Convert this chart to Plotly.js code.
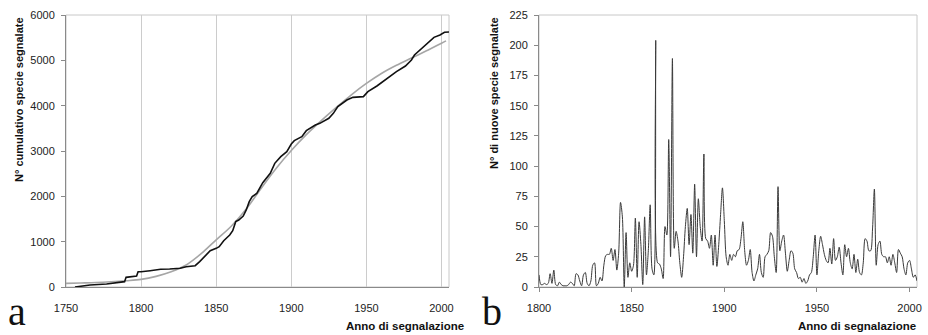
<!DOCTYPE html>
<html>
<head>
<meta charset="utf-8">
<script src="https://cdn.plot.ly/plotly-3.0.1.min.js"></script>
<style>
html,body{margin:0;padding:0;background:#fff;}
#chart{width:928px;height:335px;}
</style>
</head>
<body>
<div id="chart"></div>
<script>
// ---- Panel a: cumulative number of species reported ----
const cumYears = [1756,1766,1777,1786,1789,1790,1795,1797,1798,1800,1806,1813,1819,1826,1830,1836,1839,1842,1846,1850,1852,1855,1859,1861,1863,1865,1868,1870,1872,1874,1877,1881,1886,1889,1893,1897,1900,1902,1907,1910,1916,1919,1925,1928,1931,1937,1941,1948,1951,1957,1963,1970,1976,1980,1982,1987,1992,1995,1999,2002,2005];
const cumValues = [0,44,66,95,118,213,243,243,338,338,360,390,397,412,448,470,559,670,800,853,890,1022,1147,1243,1441,1478,1566,1699,1882,1993,2066,2301,2507,2728,2875,2985,3154,3228,3316,3449,3574,3610,3721,3831,3978,4125,4184,4199,4309,4434,4581,4750,4875,5007,5118,5265,5412,5507,5559,5618,5625];

const fitYears = [1750,1760,1770,1780,1790,1800,1810,1820,1830,1840,1850,1860,1870,1880,1890,1900,1910,1920,1930,1940,1950,1960,1970,1980,1990,2000,2003];
const fitValues = [80,88,98,115,138,169,235,335,485,735,1040,1340,1720,2180,2620,3010,3360,3670,3960,4240,4490,4710,4890,5050,5210,5375,5430];

// ---- Panel b: new species reported per year (1800-2004) ----
const newStartYear = 1800;
const new1800s = [10,2,2,3,2,3,11,3,14,2];
const new1810s = [1,4,2,1,1,1,2,4,3,1];
const new1820s = [11,10,5,1,10,12,3,1,5,18];
const new1830s = [20,1,3,8,5,18,26,27,27,32];
const new1840s = [22,31,14,28,70,58,0,45,8,20];
const new1850s = [13,18,57,8,54,35,2,58,10,30];
const new1860s = [68,15,10,204,20,19,15,7,50,43];
const new1870s = [122,25,189,32,46,38,20,8,25,50];
const new1880s = [65,35,60,28,85,25,73,50,38,110];
const new1890s = [40,38,32,43,18,43,17,35,60,82];
const new1900s = [55,25,18,27,22,27,25,30,31,40];
const new1910s = [54,30,18,22,31,12,5,10,15,27];
const new1920s = [12,8,25,27,30,45,42,25,12,83];
const new1930s = [30,38,43,28,13,22,30,28,15,12];
const new1940s = [7,8,4,7,3,5,10,12,25,43];
const new1950s = [10,30,42,35,27,22,20,32,19,40];
const new1960s = [22,25,33,20,10,35,25,32,20,15];
const new1970s = [27,12,23,12,10,20,40,38,30,30];
const new1980s = [48,81,18,35,38,27,25,25,20,25];
const new1990s = [18,27,20,12,31,28,25,15,10,20];
const new2000s = [22,15,8,10,5];

const newValues = [].concat(new1800s,new1810s,new1820s,new1830s,new1840s,new1850s,new1860s,new1870s,new1880s,new1890s,new1900s,new1910s,new1920s,new1930s,new1940s,new1950s,new1960s,new1970s,new1980s,new1990s,new2000s);
const newYears = newValues.map((_, i) => newStartYear + i);

const xTicksA = [1750,1800,1850,1900,1950,2000];
const yTicksA = [0,1000,2000,3000,4000,5000,6000];
const xTicksB = [1800,1850,1900,1950,2000];
const yTicksB = [0,25,50,75,100,125,150,175,200,225];

const FONT = 'Arial, "Liberation Sans", sans-serif';
const W = 928, H = 335;
const px = v => v / W;
const py = v => (H - v) / H;

const traces = [
  {x: fitYears, y: fitValues, type: 'scatter', mode: 'lines', xaxis: 'x', yaxis: 'y',
   line: {color: '#a6a6a6', width: 1.6, shape: 'spline', smoothing: 1}, hoverinfo: 'skip'},
  {x: cumYears, y: cumValues, type: 'scatter', mode: 'lines', xaxis: 'x', yaxis: 'y',
   line: {color: '#111111', width: 1.6}, hoverinfo: 'skip'},
  {x: newYears, y: newValues, type: 'scatter', mode: 'lines', xaxis: 'x2', yaxis: 'y2',
   line: {color: '#3a3a3a', width: 1, shape: 'spline', smoothing: 0.8}, hoverinfo: 'skip'}
];

const tickFont = {family: FONT, size: 11, color: '#222'};
const axisCommon = {showline: true, linecolor: '#8a8a8a', linewidth: 1, zeroline: false,
  tickfont: tickFont, fixedrange: true};

const layout = {
  width: W, height: H,
  margin: {l: 0, r: 0, t: 0, b: 0},
  paper_bgcolor: '#fff', plot_bgcolor: '#fff',
  showlegend: false,
  xaxis: Object.assign({}, axisCommon, {
    domain: [px(66), px(449)], range: [1750, 2005], tickvals: xTicksA,
    showgrid: true, gridcolor: '#cccccc', gridwidth: 1, ticks: '', ticklabelstandoff: 11,
    anchor: 'y'}),
  yaxis: Object.assign({}, axisCommon, {
    domain: [py(287), py(15)], range: [0, 6000], tickvals: yTicksA,
    showgrid: false, ticks: 'outside', ticklen: 4, tickcolor: '#8a8a8a', ticklabelstandoff: 4,
    anchor: 'x'}),
  xaxis2: Object.assign({}, axisCommon, {
    domain: [px(539), px(917)], range: [1800, 2004], tickvals: xTicksB,
    showgrid: false, ticks: 'outside', ticklen: 4, tickcolor: '#8a8a8a', ticklabelstandoff: 7,
    anchor: 'y2'}),
  yaxis2: Object.assign({}, axisCommon, {
    domain: [py(287), py(15)], range: [0, 225], tickvals: yTicksB,
    showgrid: false, ticks: 'outside', ticklen: 4, tickcolor: '#8a8a8a', ticklabelstandoff: 4,
    anchor: 'x2'}),
  shapes: [
    {type: 'rect', xref: 'x domain', yref: 'y domain', x0: 0, x1: 1, y0: 0, y1: 1,
     line: {color: '#c8c8c8', width: 1}, layer: 'below'},
    {type: 'rect', xref: 'x2 domain', yref: 'y2 domain', x0: 0, x1: 1, y0: 0, y1: 1,
     line: {color: '#c8c8c8', width: 1}, layer: 'below'}
  ],
  annotations: [
    {text: 'N° cumulativo specie segnalate', xref: 'paper', yref: 'paper',
     x: px(19), y: py(100), textangle: -90, showarrow: false, xanchor: 'center', yanchor: 'middle',
     font: {family: FONT, size: 11, color: '#111', weight: 'bold'}},
    {text: 'N° di nuove specie segnalate', xref: 'paper', yref: 'paper',
     x: px(494), y: py(93), textangle: -90, showarrow: false, xanchor: 'center', yanchor: 'middle',
     font: {family: FONT, size: 11, color: '#111', weight: 'bold'}},
    {text: 'Anno di segnalazione', xref: 'paper', yref: 'paper',
     x: px(344), y: py(326), showarrow: false, xanchor: 'left', yanchor: 'middle',
     font: {family: FONT, size: 11.5, color: '#111', weight: 'bold'}},
    {text: 'Anno di segnalazione', xref: 'paper', yref: 'paper',
     x: px(918), y: py(326), showarrow: false, xanchor: 'right', yanchor: 'middle',
     font: {family: FONT, size: 11.5, color: '#111', weight: 'bold'}},
    {text: 'a', xref: 'paper', yref: 'paper',
     x: px(7), y: 0, showarrow: false, xanchor: 'left', yanchor: 'bottom', borderpad: 0,
     font: {family: '"Liberation Serif", "DejaVu Serif", serif', size: 40, color: '#111'}},
    {text: 'b', xref: 'paper', yref: 'paper',
     x: px(481), y: 0, showarrow: false, xanchor: 'left', yanchor: 'bottom', borderpad: 0,
     font: {family: '"Liberation Serif", "DejaVu Serif", serif', size: 40, color: '#111'}}
  ]
};

Plotly.newPlot('chart', traces, layout, {staticPlot: true, displayModeBar: false});
</script>
</body>
</html>
